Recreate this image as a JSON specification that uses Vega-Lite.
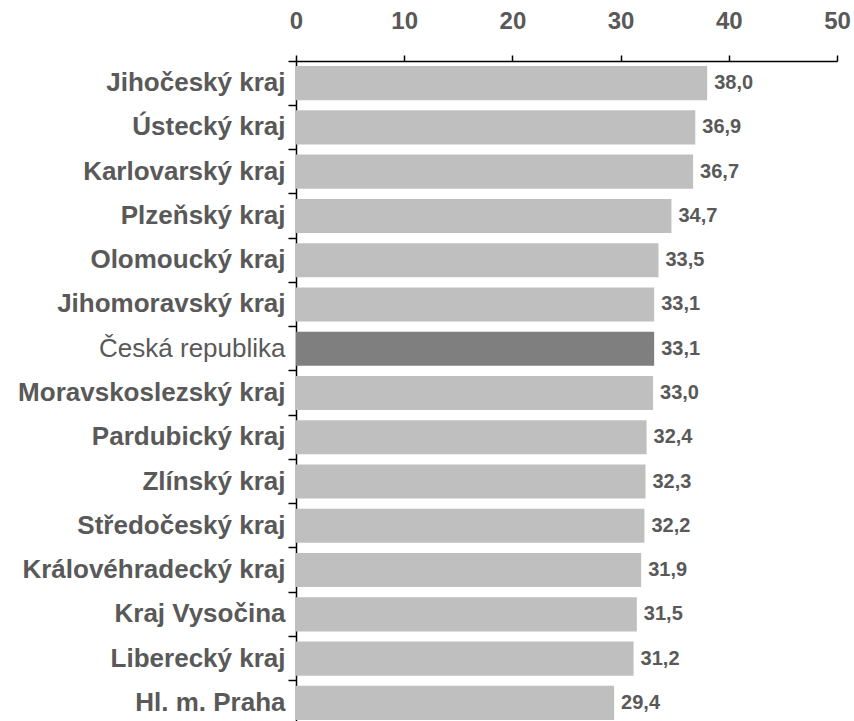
{
  "$schema": "https://vega.github.io/schema/vega-lite/v6.json",
  "autosize": "none",
  "width": 541,
  "height": 664,
  "padding": {"left": 296, "top": 61, "right": 17, "bottom": 0},
  "background": "white",
  "data": {
    "values": [
      {"kraj": "Jihočeský kraj", "value": 38.0},
      {"kraj": "Ústecký kraj", "value": 36.9},
      {"kraj": "Karlovarský kraj", "value": 36.7},
      {"kraj": "Plzeňský kraj", "value": 34.7},
      {"kraj": "Olomoucký kraj", "value": 33.5},
      {"kraj": "Jihomoravský kraj", "value": 33.1},
      {"kraj": "Česká republika", "value": 33.1},
      {"kraj": "Moravskoslezský kraj", "value": 33.0},
      {"kraj": "Pardubický kraj", "value": 32.4},
      {"kraj": "Zlínský kraj", "value": 32.3},
      {"kraj": "Středočeský kraj", "value": 32.2},
      {"kraj": "Královéhradecký kraj", "value": 31.9},
      {"kraj": "Kraj Vysočina", "value": 31.5},
      {"kraj": "Liberecký kraj", "value": 31.2},
      {"kraj": "Hl. m. Praha", "value": 29.4}
    ]
  },
  "transform": [
    {"calculate": "replace(format(datum.value, '.1f'), '.', ',')", "as": "label"}
  ],
  "encoding": {
    "y": {
      "field": "kraj",
      "type": "nominal",
      "sort": null,
      "title": null,
      "scale": {"paddingInner": 0, "paddingOuter": 0},
      "axis": {
        "bandPosition": 0,
        "domainColor": "#000000",
        "domainWidth": 1.5,
        "tickColor": "#000000",
        "tickWidth": 1.5,
        "tickSize": 8,
        "labelPadding": 3,
        "labelFont": "Liberation Sans",
        "labelFontSize": 26,
        "labelColor": "#595959",
        "labelFontWeight": {
          "condition": {"test": "datum.value === 'Česká republika'", "value": "normal"},
          "value": "bold"
        },
        "labelLimit": 400
      }
    },
    "x": {
      "field": "value",
      "type": "quantitative",
      "title": null,
      "scale": {"domain": [0, 50], "nice": false},
      "axis": {
        "orient": "top",
        "values": [0, 10, 20, 30, 40, 50],
        "grid": false,
        "domainColor": "#000000",
        "domainWidth": 1.5,
        "tickColor": "#000000",
        "tickWidth": 1.5,
        "tickSize": 6,
        "labelPadding": 22,
        "labelFont": "Liberation Sans",
        "labelFontSize": 24,
        "labelFontWeight": "bold",
        "labelColor": "#595959",
        "labelFlush": false
      }
    }
  },
  "layer": [
    {
      "mark": {"type": "bar", "height": {"band": 0.77}},
      "encoding": {
        "color": {
          "condition": {"test": "datum.kraj === 'Česká republika'", "value": "#7f7f7f"},
          "value": "#bfbfbf"
        }
      }
    },
    {
      "mark": {
        "type": "text",
        "align": "left",
        "baseline": "middle",
        "dx": 7,
        "font": "Liberation Sans",
        "fontSize": 20,
        "fontWeight": "bold",
        "color": "#595959"
      },
      "encoding": {"text": {"field": "label"}}
    }
  ],
  "config": {"view": {"stroke": null}}
}
